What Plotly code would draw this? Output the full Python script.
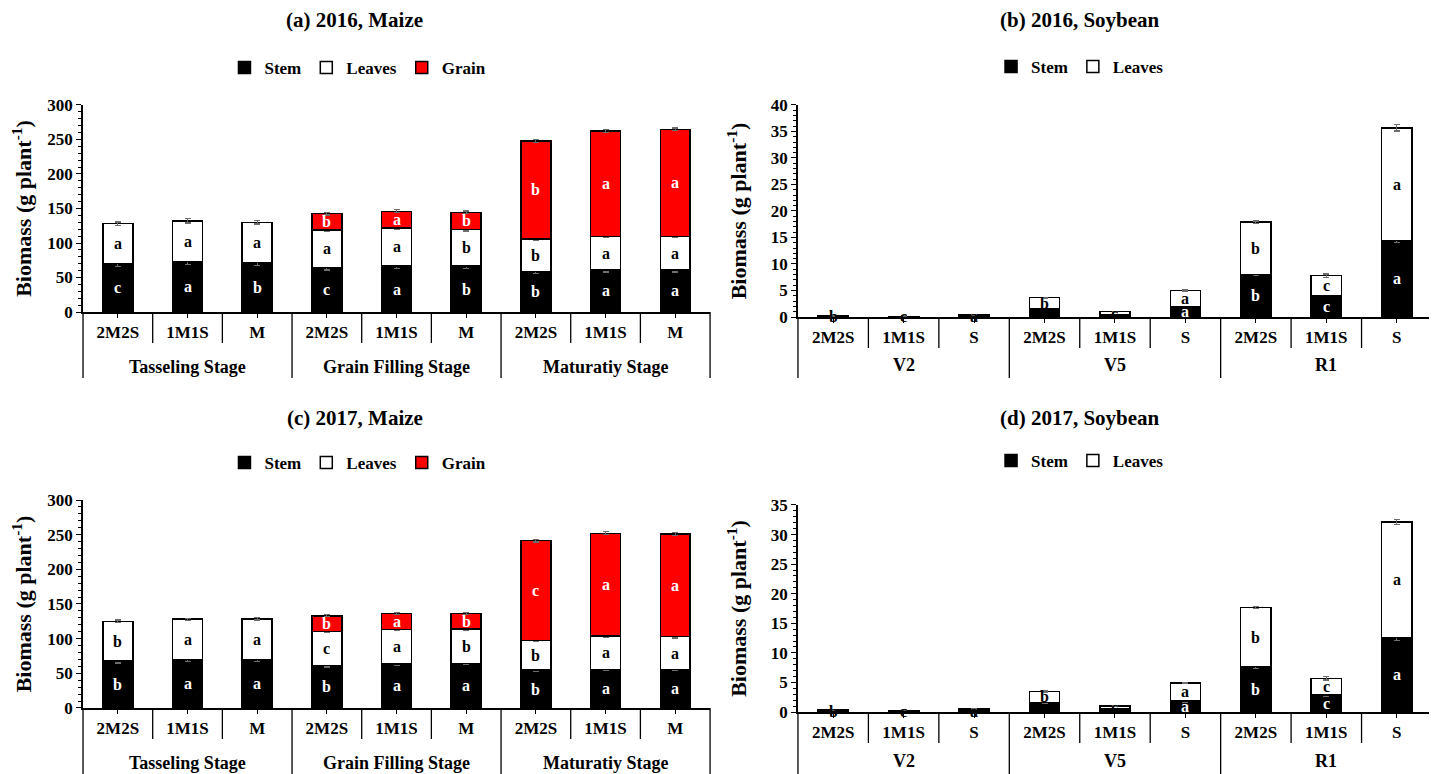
import plotly.graph_objects as go

# ---------------- data ----------------
stages_maize = ["Tasseling Stage", "Grain Filling Stage", "Maturatiy Stage"]
treat_maize = ["2M2S", "1M1S", "M"]
stages_soy = ["V2", "V5", "R1"]
treat_soy = ["2M2S", "1M1S", "S"]

# (a) 2016 maize
m16_stem = [70, 73, 71.5, 64.5, 66.5, 66.5, 59, 61, 61]
m16_leaves = [58, 59, 58.5, 54, 55.5, 53, 47, 48.5, 48.5]
m16_grain = [None, None, None, 24, 24, 25, 142, 153, 155]
m16_stem_err = [4, 4, 4, 3.5, 3, 3, 3, 3, 3]
m16_leaves_err = [2.5, 3, 2.5, 2, 2, 2, 2.5, 2, 2]
m16_grain_err = [0, 0, 0, 2, 2, 2, 2, 2, 2]
m16_stem_let = ["c", "a", "b", "c", "a", "b", "b", "a", "a"]
m16_leaves_let = ["a", "a", "a", "a", "a", "b", "b", "a", "a"]
m16_grain_let = ["", "", "", "b", "a", "b", "b", "a", "a"]

# (b) 2016 soybean
s16_stem = [0.1, 0.05, 0.15, 1.5, 0.4, 1.9, 8.0, 4.0, 14.4]
s16_leaves = [0.1, 0.08, 0.2, 2.15, 0.6, 3.1, 9.9, 3.8, 21.3]
s16_stem_err = [0.05, 0.05, 0.05, 0.1, 0.1, 0.15, 0.2, 0.2, 0.3]
s16_leaves_err = [0.05, 0.05, 0.1, 0.1, 0.1, 0.1, 0.2, 0.3, 0.6]
s16_stem_let = ["b", "c", "a", "", "", "a", "b", "c", "a"]
s16_leaves_let = ["", "", "", "b", "c", "a", "b", "c", "a"]

# (c) 2017 maize
m17_stem = [68, 70, 70, 61.5, 63.5, 64.5, 54.5, 55.5, 55.5]
m17_leaves = [57, 58, 58.5, 48.5, 50, 49.5, 43, 48, 47.5]
m17_grain = [None, None, None, 23, 23, 22.5, 144, 148.5, 148]
m17_stem_err = [3, 3, 3, 2.5, 2.5, 2, 2, 2, 2]
m17_leaves_err = [2, 1.5, 1.5, 1.5, 1.5, 1.5, 2, 2, 2]
m17_grain_err = [0, 0, 0, 1.5, 1.5, 1.5, 2, 2, 2]
m17_stem_let = ["b", "a", "a", "b", "a", "a", "b", "a", "a"]
m17_leaves_let = ["b", "a", "a", "c", "a", "b", "b", "a", "a"]
m17_grain_let = ["", "", "", "b", "a", "b", "c", "a", "a"]

# (d) 2017 soybean
s17_stem = [0.2, 0.15, 0.3, 1.6, 0.5, 1.9, 7.7, 2.9, 12.6]
s17_leaves = [0.15, 0.15, 0.25, 1.9, 0.55, 3.05, 9.95, 2.8, 19.5]
s17_stem_err = [0.05, 0.05, 0.05, 0.15, 0.1, 0.2, 0.3, 0.3, 0.5]
s17_leaves_err = [0.05, 0.05, 0.05, 0.1, 0.1, 0.1, 0.2, 0.3, 0.4]
s17_stem_let = ["b", "c", "a", "", "", "a", "b", "c", "a"]
s17_leaves_let = ["", "", "", "b", "c", "a", "b", "c", "a"]

titles = ["(a) 2016, Maize", "(b) 2016, Soybean", "(c) 2017, Maize", "(d) 2017, Soybean"]

# ---------------- style ----------------
FONT = "Liberation Serif"
COLORS = {"Stem": "black", "Leaves": "white", "Grain": "#ff0000"}
TXT = {"Stem": "white", "Leaves": "black", "Grain": "white"}
W, H = 1429, 766  # page body has an 8px margin

fig = go.Figure()

panels = [
    dict(stages=stages_maize, treats=treat_maize, ymax=300, dtick=50, minor=10,
         series=[("Stem", m16_stem, m16_stem_err, m16_stem_let),
                 ("Leaves", m16_leaves, m16_leaves_err, m16_leaves_let),
                 ("Grain", m16_grain, m16_grain_err, m16_grain_let)],
         xdom=[0.0525, 0.4913], ydom=[0.6031, 0.8734], title_xy=(0.2428, 0.9843), leg_xy=(0.2449, 0.9217),
         grp_shift=-55, div_len=66),
    dict(stages=stages_soy, treats=treat_soy, ymax=40, dtick=5, minor=1,
         series=[("Stem", s16_stem, s16_stem_err, s16_stem_let),
                 ("Leaves", s16_leaves, s16_leaves_err, s16_leaves_let)],
         xdom=[0.5528, 0.9965], ydom=[0.5966, 0.8734], title_xy=(0.7502, 0.9843), leg_xy=(0.7502, 0.923),
         grp_shift=-48, div_len=61),
    dict(stages=stages_maize, treats=treat_maize, ymax=300, dtick=50, minor=10,
         series=[("Stem", m17_stem, m17_stem_err, m17_stem_let),
                 ("Leaves", m17_leaves, m17_leaves_err, m17_leaves_let),
                 ("Grain", m17_grain, m17_grain_err, m17_grain_let)],
         xdom=[0.0525, 0.4913], ydom=[0.0862, 0.3577], title_xy=(0.2428, 0.4648), leg_xy=(0.2449, 0.406),
         grp_shift=-55, div_len=66),
    dict(stages=stages_soy, treats=treat_soy, ymax=35, dtick=5, minor=1,
         series=[("Stem", s17_stem, s17_stem_err, s17_stem_let),
                 ("Leaves", s17_leaves, s17_leaves_err, s17_leaves_let)],
         xdom=[0.5528, 0.9965], ydom=[0.0809, 0.3512], title_xy=(0.7502, 0.4648), leg_xy=(0.7502, 0.4086),
         grp_shift=-49, div_len=66),
]

annotations = []
shapes = []
layout_updates = {}
for i, p in enumerate(panels):
    n = i + 1
    xa = "x" if n == 1 else f"x{n}"
    ya = "y" if n == 1 else f"y{n}"
    leg = "legend" if n == 1 else f"legend{n}"
    ng, nt = len(p["stages"]), len(p["treats"])
    ncat = ng * nt
    xpos = list(range(ncat))
    ticktext = [t for _ in p["stages"] for t in p["treats"]]
    base = [0.0] * ncat
    for name, vals, errs, lets in p["series"]:
        fig.add_trace(go.Bar(
            x=xpos, y=vals, name=name, xaxis=xa, yaxis=ya, legend=leg,
            marker=dict(color=COLORS[name], line=dict(color="black", width=1.5)),
            error_y=dict(type="data", array=errs, visible=True, color="#6e6e6e",
                         thickness=1.2, width=3),
            showlegend=True,
        ))
        for k in range(ncat):
            v = vals[k]
            if v is None:
                continue
            mid = base[k] + v / 2
            small = v < p["ymax"] * 0.02
            if lets[k]:
                annotations.append(dict(
                    x=xpos[k], y=mid, xref=xa, yref=ya, text=lets[k], showarrow=False,
                    font=dict(family=FONT, size=16, weight="bold",
                              color="black" if small else TXT[name]),
                ))
            base[k] += v
    # group labels
    for g, stage in enumerate(p["stages"]):
        annotations.append(dict(
            x=g * nt + (nt - 1) / 2, y=0, xref=xa, yref=ya, yshift=p["grp_shift"],
            text=stage, showarrow=False, yanchor="middle",
            font=dict(family=FONT, size=18, weight="bold", color="black")))
    # category boundary lines and group dividers (below the axis)
    x0d, x1d = p["xdom"]
    y0d = p["ydom"][0]
    for b in range(ncat + 1):
        xp = x0d + (x1d - x0d) * b / ncat
        length = p["div_len"] if b % nt == 0 else 31
        shapes.append(dict(
            type="line", xref="paper", yref="paper", x0=xp, x1=xp,
            y0=y0d, y1=y0d - length / H,
            line=dict(color="black", width=1.3)))
    # title
    annotations.append(dict(
        x=p["title_xy"][0], y=p["title_xy"][1], xref="paper", yref="paper",
        text=titles[i], showarrow=False, xanchor="center", yanchor="middle",
        font=dict(family=FONT, size=21, weight="bold", color="black")))
    axis_x = dict(
        domain=p["xdom"], anchor=ya, range=[-0.5, ncat - 0.5],
        tickmode="array", tickvals=xpos, ticktext=ticktext,
        showline=True, linecolor="black", linewidth=1.5,
        ticks="outside", ticklen=4, tickcolor="black", tickwidth=1.2,
        tickfont=dict(family=FONT, size=17, weight="bold", color="black"),
        showgrid=False, zeroline=False, fixedrange=True, automargin=False,
    )
    axis_y = dict(
        domain=p["ydom"], anchor=xa, range=[0, p["ymax"]], dtick=p["dtick"],
        showline=True, linecolor="black", linewidth=1.5,
        ticks="outside", ticklen=5, tickcolor="black", tickwidth=1.2,
        minor=dict(dtick=p["minor"], ticks="outside", ticklen=3, tickcolor="black", tickwidth=1),
        tickfont=dict(family=FONT, size=17, weight="bold", color="black"),
        title=dict(text="Biomass (g plant<sup>-1</sup>)", standoff=18,
                   font=dict(family=FONT, size=22, weight="bold", color="black")),
        showgrid=False, zeroline=False, fixedrange=True, automargin=False,
    )
    layout_updates["xaxis" if n == 1 else f"xaxis{n}"] = axis_x
    layout_updates["yaxis" if n == 1 else f"yaxis{n}"] = axis_y
    layout_updates[leg] = dict(
        x=p["leg_xy"][0], y=p["leg_xy"][1], xanchor="center", yanchor="middle",
        orientation="h", bgcolor="rgba(0,0,0,0)", traceorder="normal",
        font=dict(family=FONT, size=17, weight="bold", color="black"),
        itemwidth=30,
    )

fig.update_layout(**layout_updates)
fig.update_layout(
    width=W, height=H, autosize=False,
    margin=dict(l=0, r=0, t=0, b=0, autoexpand=False),
    paper_bgcolor="white", plot_bgcolor="white",
    barmode="stack", bargap=0.57,
    annotations=annotations, shapes=shapes,
    font=dict(family=FONT, color="black"),
)

fig.write_html("out.html")
